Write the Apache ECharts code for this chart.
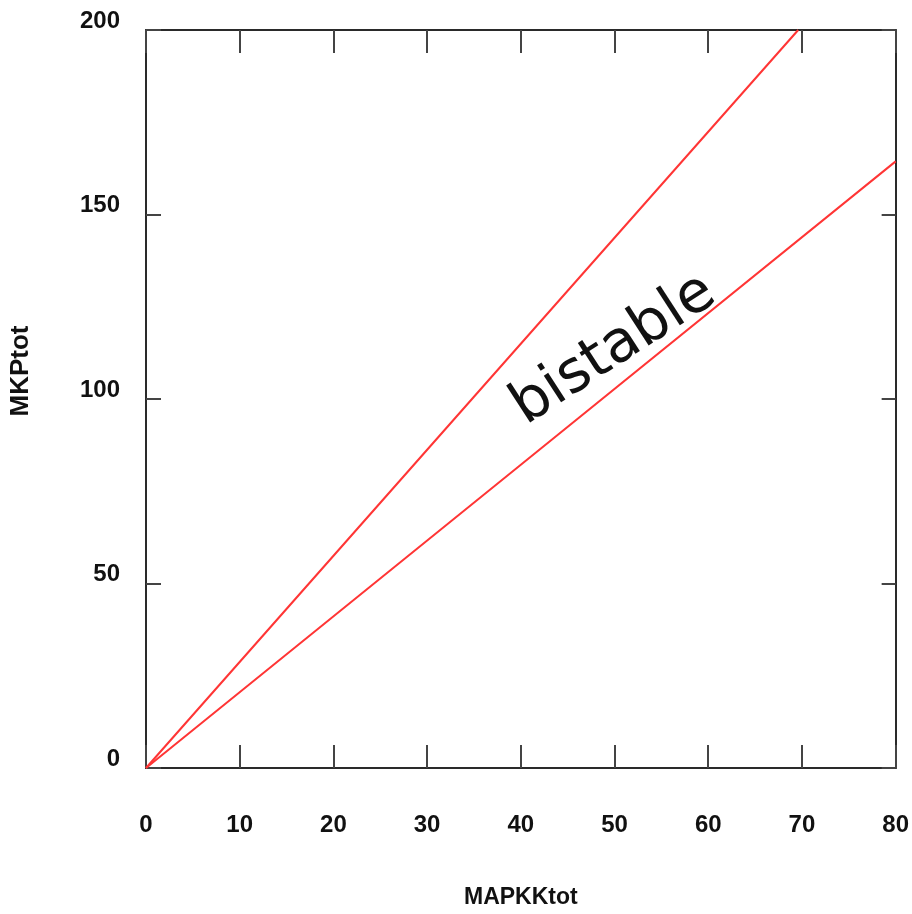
<!DOCTYPE html>
<html>
<head>
<meta charset="utf-8">
<script src="https://cdn.jsdelivr.net/npm/echarts@6/dist/echarts.min.js"></script>
<style>
html,body{margin:0;padding:0;background:#fff;}
#chart{width:912px;height:914px;}
</style>
</head>
<body>
<div id="chart"></div>
<script>
// Data
const xName = 'MAPKKtot';
const yName = 'MKPtot';
const regionLabel = 'bistable';
const upperBoundary = [[0, 0], [35, 100.6], [69.6, 200]];
const lowerBoundary = [[0, 0], [40, 82.2], [80, 164.4]];
const xMin = 0, xMax = 80, xStep = 10;
const yMin = 0, yMax = 200, yStep = 50;

const tickFont = "'Liberation Sans Narrow','Arial Narrow','Liberation Sans',sans-serif";
const axisColor = '#2a2a2a';
const lineColor = '#ff3535';

const chart = echarts.init(document.getElementById('chart'));
const baseX = {
  type: 'value', min: xMin, max: xMax, interval: xStep,
  splitLine: {show: false},
  axisLine: {show: true, onZero: false, lineStyle: {color: axisColor, width: 2}},
  axisTick: {show: true, inside: true, length: 23, lineStyle: {color: '#444', width: 2}}
};
const baseY = {
  type: 'value', min: yMin, max: yMax, interval: yStep,
  splitLine: {show: false},
  axisLine: {show: true, onZero: false, lineStyle: {color: axisColor, width: 2}},
  axisTick: {show: true, inside: true, length: 15, lineStyle: {color: '#444', width: 2}}
};
chart.setOption({
  backgroundColor: '#ffffff',
  animation: false,
  grid: {left: 145, right: 16, top: 30, bottom: 143, containLabel: false},
  xAxis: [
    Object.assign({}, baseX, {
      position: 'bottom',
      name: xName, nameLocation: 'middle', nameGap: 118,
      nameTextStyle: {fontFamily: tickFont, fontWeight: 'bold', fontSize: 23, color: '#111'},
      axisLabel: {margin: 45, fontFamily: tickFont, fontWeight: 'bold', fontSize: 24, color: '#111'}
    }),
    Object.assign({}, baseX, {position: 'top', axisLabel: {show: false}})
  ],
  yAxis: [
    Object.assign({}, baseY, {
      position: 'left',
      name: yName, nameLocation: 'middle', nameGap: 112, nameRotate: 90,
      nameTextStyle: {fontFamily: tickFont, fontWeight: 'bold', fontSize: 26, color: '#111', padding: [0, 0, 0, 56]},
      axisLabel: {margin: 26, verticalAlign: 'bottom', lineHeight: 18, fontFamily: tickFont, fontWeight: 'bold', fontSize: 24, color: '#111'}
    }),
    Object.assign({}, baseY, {position: 'right', axisLabel: {show: false}, axisTick: {show: true, inside: true, length: 14, lineStyle: {color: '#444', width: 2}}})
  ],
  series: [
    {type: 'line', data: upperBoundary, showSymbol: false, symbol: 'none',
     lineStyle: {color: lineColor, width: 2}, xAxisIndex: 0, yAxisIndex: 0, clip: true},
    {type: 'line', data: lowerBoundary, showSymbol: false, symbol: 'none',
     lineStyle: {color: lineColor, width: 2}, xAxisIndex: 0, yAxisIndex: 0, clip: true}
  ],
  graphic: [{
    type: 'text', x: 614, y: 350, rotation: 33 * Math.PI / 180,
    style: {text: regionLabel, fontFamily: "'DejaVu Sans',sans-serif", fontSize: 58,
            fill: '#111', align: 'center', verticalAlign: 'middle'}
  }]
});
</script>
</body>
</html>
